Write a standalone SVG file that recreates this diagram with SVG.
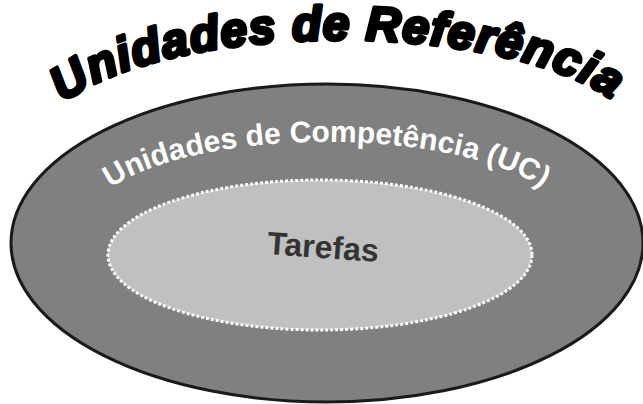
<svg xmlns="http://www.w3.org/2000/svg" width="643" height="404" viewBox="0 0 643 404">
<style>
.title{font-family:"Liberation Sans",Arial,sans-serif;font-weight:bold;font-style:italic;font-size:48px;letter-spacing:1.2px;fill:#000;stroke:#000;stroke-width:3.6;stroke-linejoin:round}
.uc{font-family:"Liberation Sans",Arial,sans-serif;font-weight:bold;font-size:30px;fill:#fff}
.task{font-family:"Liberation Sans",Arial,sans-serif;font-weight:bold;font-size:32px;fill:#333}
</style>
<defs>
<path id="titleArc" d="M 64,103 A 300,104 0 0 1 612,100"/>
<path id="ucArc" d="M 108,190 A 240,82 0 0 1 545,190"/>
</defs>
<g id="outer">
<ellipse cx="327" cy="243" rx="316" ry="159" fill="#808080" stroke="#1a1a1a" stroke-width="3"/>
<text class="uc" text-anchor="middle"><textPath href="#ucArc" startOffset="50%">Unidades de Competência (UC)</textPath></text>
</g>
<g id="inner">
<ellipse cx="320" cy="255" rx="212" ry="75" fill="#c0c0c0" stroke="#fff" stroke-width="3" stroke-dasharray="3,2"/>
<text class="task" x="323" y="258" text-anchor="middle" transform="rotate(4 323 248)">Tarefas</text>
</g>
<g id="title">
<text class="title" text-anchor="middle"><textPath href="#titleArc" startOffset="50%">Unidades de Referência</textPath></text>
</g>
</svg>
